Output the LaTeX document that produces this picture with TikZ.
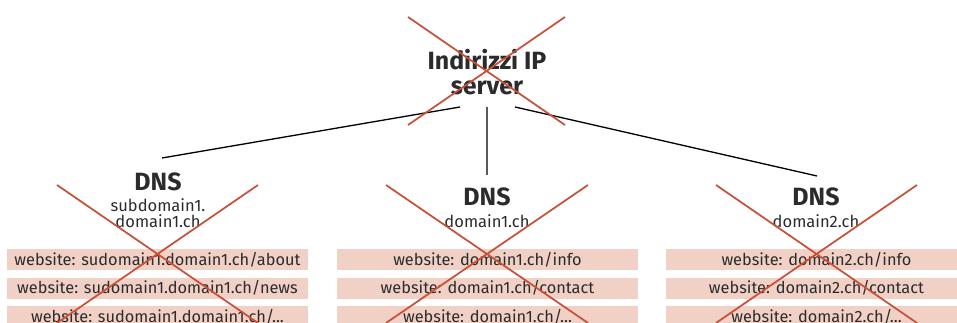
\documentclass[tikz,border=0pt]{standalone}
\usepackage{fontspec}
\setmainfont{Fira Sans}
\usetikzlibrary{positioning}
\definecolor{crossred}{HTML}{C8513B}
\definecolor{sitepink}{HTML}{F1D1C5}
\definecolor{inkgray}{HTML}{2B2B2B}
\tikzset{
  title/.style={font=\bfseries\fontsize{14.2}{13.8}\selectfont,text=inkgray,align=center,inner sep=0pt},
  sub/.style={font=\fontsize{9.4}{9.4}\selectfont,text=inkgray,align=center,inner sep=0pt},
  site/.style={fill=sitepink,font=\fontsize{9.3}{10}\selectfont,text=inkgray,
    minimum width=6.02cm,minimum height=0.42cm,inner sep=0pt},
  link/.style={draw=black,line width=0.75pt},
  cross/.style={draw=crossred,line width=1pt}
}

\begin{document}
\begin{tikzpicture}[x=0.02cm,y=-0.02cm,node distance=0.14cm]
  \useasboundingbox (0,0) rectangle (957,323);
  \clip (0,0) rectangle (957,323);

  % server
  \node[title] (srv) at (487,72) {Indirizzi IP\\server};

  % dns servers
  \node[title] (dnsA) at (158,182) {DNS};
  \node[sub]   (subA) at (158,213) {subdomain1.\\domain1.ch};
  \node[title] (dnsB) at (487,197) {DNS};
  \node[sub]   (subB) at (487,221) {domain1.ch};
  \node[title] (dnsC) at (816,197) {DNS};
  \node[sub]   (subC) at (816,221) {domain2.ch};

  \coordinate (outA) at (460,107);
  \coordinate (outB) at (487,107);
  \coordinate (outC) at (515,107);
  \coordinate (inA) at (162,158);
  \coordinate (inB) at (487,175);
  \coordinate (inC) at (817,176);
  \path[link] (outA) -- (inA)
    (outB) -- (inB)
    (outC) -- (inC);

  % websites
  \node[site] (webA1) at (157.5,259.5) {website: sudomain1.domain1.ch/about};
  \node[site] (webA2) [below=of webA1] {website: sudomain1.domain1.ch/news};
  \node[site] (webA3) [below=of webA2] {website: sudomain1.domain1.ch/...};
  \node[site] (webB1) at (487.5,259.5) {website: domain1.ch/info};
  \node[site] (webB2) [below=of webB1] {website: domain1.ch/contact};
  \node[site] (webB3) [below=of webB2] {website: domain1.ch/...};
  \node[site] (webC1) at (816.5,259.5) {website: domain2.ch/info};
  \node[site] (webC2) [below=of webC1] {website: domain2.ch/contact};
  \node[site] (webC3) [below=of webC2] {website: domain2.ch/...};

  % crossed out
  \draw[cross] (408,17) -- (565,125) (565,17) -- (408,125);
  \draw[cross] (57,185) -- (258,323) (258,185) -- (57,323);
  \draw[cross] (386,185) -- (588,323) (588,185) -- (386,323);
  \draw[cross] (716,185) -- (917,323) (917,185) -- (716,323);
\end{tikzpicture}
\end{document}
